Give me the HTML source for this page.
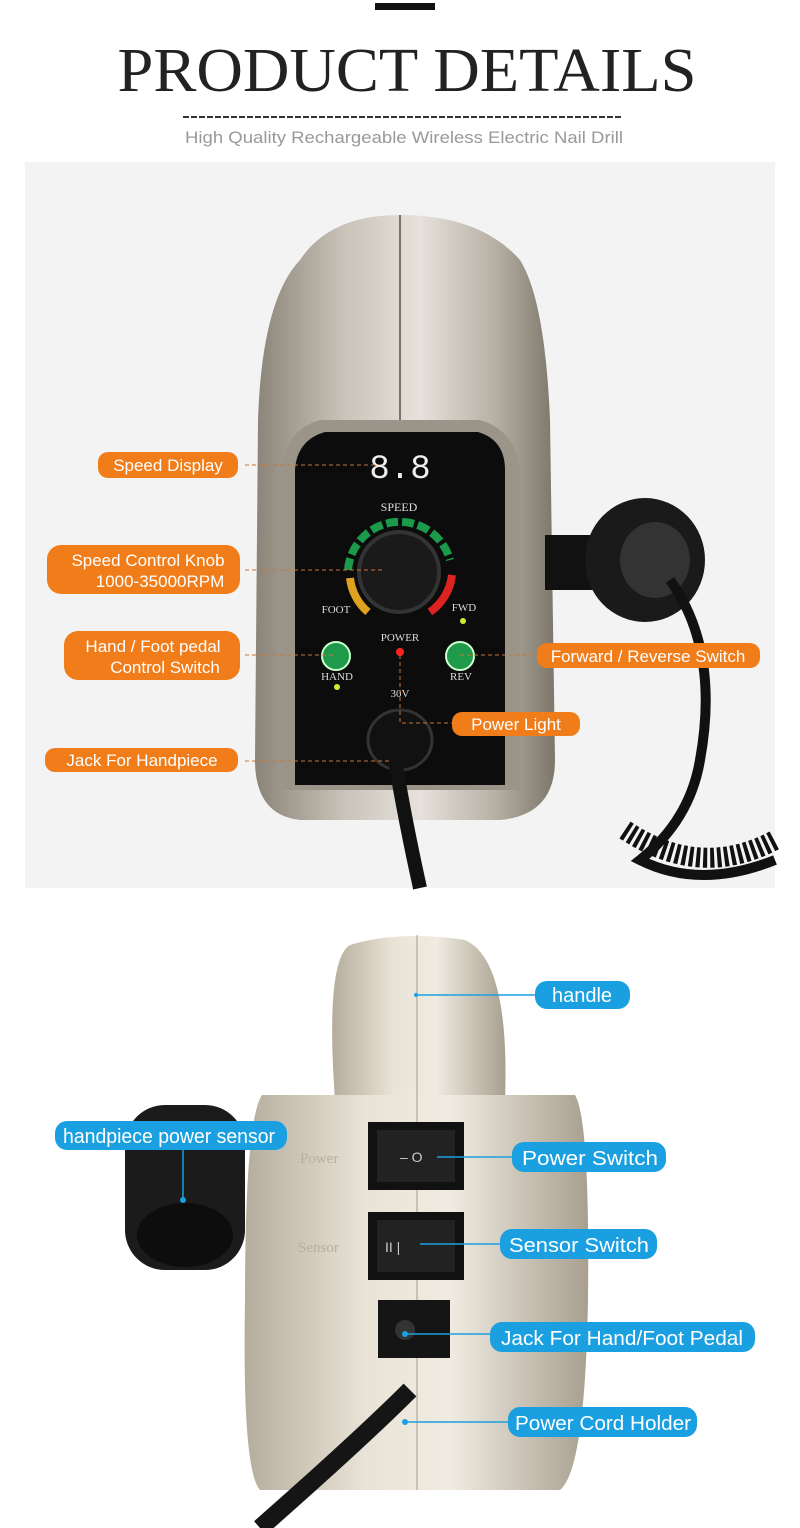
<!DOCTYPE html>
<html><head><meta charset="utf-8"><style>
body{margin:0;width:800px;height:1528px;background:#fff;overflow:hidden}
svg{display:block}
.o{font-family:"Liberation Sans",sans-serif;font-size:17px;fill:#fff}
.b{font-family:"Liberation Sans",sans-serif;font-size:20px;fill:#fff}
.p{font-family:"Liberation Serif",serif;font-size:11px;fill:#ddd}
</style></head><body>
<svg width="800" height="1528" viewBox="0 0 800 1528">
<defs>
<linearGradient id="body1" x1="0" x2="1"><stop offset="0" stop-color="#8a8378"/><stop offset=".3" stop-color="#c9c3b9"/><stop offset=".55" stop-color="#e6e2db"/><stop offset=".8" stop-color="#b7b0a5"/><stop offset="1" stop-color="#7d766b"/></linearGradient>
<linearGradient id="body2" x1="0" x2="1"><stop offset="0" stop-color="#b5ac9c"/><stop offset=".35" stop-color="#e9e3d7"/><stop offset=".6" stop-color="#f0ebe1"/><stop offset="1" stop-color="#a89f8f"/></linearGradient>
</defs>
<rect x="375" y="3" width="60" height="7" fill="#111"/>
<text x="407" y="91" text-anchor="middle" font-family="Liberation Serif,serif" font-size="62" fill="#222" textLength="579" lengthAdjust="spacingAndGlyphs">PRODUCT DETAILS</text>
<line x1="183" y1="117" x2="622" y2="117" stroke="#333" stroke-width="2" stroke-dasharray="6,2"/>
<text x="404" y="143" text-anchor="middle" font-family="Liberation Sans,sans-serif" font-size="17" fill="#999" textLength="438" lengthAdjust="spacingAndGlyphs">High Quality Rechargeable Wireless Electric Nail Drill</text>
<rect x="25" y="162" width="750" height="726" fill="#f3f3f3"/>
<!-- device 1 -->
<path d="M300 260 Q330 215 400 215 Q480 215 520 260 Q545 300 550 420 L555 760 Q555 815 500 820 L300 820 Q255 815 255 760 L258 420 Q262 300 300 260Z" fill="url(#body1)"/>
<line x1="400" y1="215" x2="400" y2="420" stroke="#7a7368" stroke-width="2"/>
<path d="M320 420 L480 420 Q515 430 520 470 L520 790 L282 790 L282 470 Q285 430 320 420Z" fill="#9b9488"/>
<path d="M325 432 L478 432 Q505 440 505 470 L505 785 L295 785 L295 470 Q297 440 325 432Z" fill="#0c0c0c"/>
<text x="400" y="478" text-anchor="middle" font-family="Liberation Mono,monospace" font-size="34" fill="#eee">8.8</text>
<text x="399" y="511" text-anchor="middle" font-family="Liberation Serif,serif" font-size="12" fill="#ddd">SPEED</text>
<path d="M348 570 A52 52 0 0 1 450 560" stroke="#1a9a4a" stroke-width="8" fill="none" stroke-dasharray="12,4"/>
<path d="M452 575 A52 52 0 0 1 430 612" stroke="#d22" stroke-width="8" fill="none"/>
<path d="M350 578 A52 52 0 0 0 368 612" stroke="#e0a020" stroke-width="8" fill="none"/>
<circle cx="399" cy="572" r="40" fill="#1a1a1a" stroke="#333" stroke-width="4"/>
<text x="336" y="613" text-anchor="middle" class="p">FOOT</text>
<text x="464" y="611" text-anchor="middle" class="p">FWD</text>
<text x="400" y="641" text-anchor="middle" class="p">POWER</text>
<circle cx="463" cy="621" r="3" fill="#ce3"/>
<circle cx="336" cy="656" r="14" fill="#1e9a4a" stroke="#cfc" stroke-width="2"/>
<circle cx="460" cy="656" r="14" fill="#1e9a4a" stroke="#cfc" stroke-width="2"/>
<circle cx="400" cy="652" r="4" fill="#f22"/>
<text x="337" y="680" text-anchor="middle" class="p">HAND</text>
<text x="461" y="680" text-anchor="middle" class="p">REV</text>
<circle cx="337" cy="687" r="3" fill="#ce3"/>
<text x="400" y="697" text-anchor="middle" class="p">30V</text>
<ellipse cx="400" cy="740" rx="32" ry="30" fill="#111" stroke="#333" stroke-width="3"/>
<path d="M395 760 Q405 820 420 888" stroke="#111" stroke-width="14" fill="none"/>
<rect x="545" y="535" width="50" height="55" fill="#111"/>
<ellipse cx="645" cy="560" rx="60" ry="62" fill="#1a1a1a"/>
<ellipse cx="655" cy="560" rx="35" ry="38" fill="#333"/>
<path d="M670 580 Q720 650 700 760 Q690 820 640 860 Q700 890 775 860" stroke="#111" stroke-width="10" fill="none"/>
<path d="M625 830 Q700 880 775 840" stroke="#111" stroke-width="20" fill="none" stroke-dasharray="4,3"/>
<!-- orange labels -->
<g fill="#f07d1a">
<rect x="98" y="452" width="140" height="26" rx="10"/>
<rect x="47" y="545" width="193" height="49" rx="14"/>
<rect x="64" y="631" width="176" height="49" rx="14"/>
<rect x="537" y="643" width="223" height="25" rx="10"/>
<rect x="452" y="712" width="128" height="24" rx="10"/>
<rect x="45" y="748" width="193" height="24" rx="10"/>
</g>
<g stroke="#c8753a" stroke-dasharray="4,3" fill="none">
<line x1="245" y1="465" x2="375" y2="465"/><line x1="245" y1="570" x2="385" y2="570"/>
<line x1="245" y1="655" x2="336" y2="655"/><line x1="460" y1="655" x2="537" y2="655"/>
<polyline points="400,655 400,723 452,723"/><line x1="245" y1="761" x2="390" y2="761"/>
</g>
<text x="168" y="471" text-anchor="middle" class="o">Speed Display</text>
<text x="148" y="566" text-anchor="middle" class="o">Speed Control Knob</text>
<text x="160" y="587" text-anchor="middle" class="o">1000-35000RPM</text>
<text x="153" y="652" text-anchor="middle" class="o">Hand / Foot pedal</text>
<text x="165" y="673" text-anchor="middle" class="o">Control Switch</text>
<text x="648" y="662" text-anchor="middle" class="o">Forward / Reverse Switch</text>
<text x="516" y="730" text-anchor="middle" class="o">Power Light</text>
<text x="142" y="766" text-anchor="middle" class="o">Jack For Handpiece</text>
<!-- device 2 -->
<path d="M350 945 Q400 930 465 940 Q510 960 505 1100 L335 1100 Q325 960 350 945Z" fill="url(#body2)"/>
<path d="M262 1095 L575 1095 Q590 1120 588 1300 Q585 1470 560 1490 L260 1490 Q242 1470 245 1300 Q245 1120 262 1095Z" fill="url(#body2)"/>
<line x1="417" y1="935" x2="417" y2="1490" stroke="#a59c8c"/>
<rect x="125" y="1105" width="120" height="165" rx="40" fill="#1b1b1b"/>
<ellipse cx="185" cy="1235" rx="48" ry="32" fill="#0d0d0d"/>
<text x="300" y="1163" font-family="Liberation Serif,serif" font-size="15" fill="#b8ae9d">Power</text>
<text x="298" y="1252" font-family="Liberation Serif,serif" font-size="15" fill="#b8ae9d">Sensor</text>
<rect x="368" y="1122" width="96" height="68" fill="#111"/><rect x="377" y="1130" width="78" height="52" fill="#222"/>
<text x="400" y="1162" fill="#ccc" font-family="Liberation Sans" font-size="14">–  O</text>
<rect x="368" y="1212" width="96" height="68" fill="#111"/><rect x="377" y="1220" width="78" height="52" fill="#222"/>
<text x="385" y="1252" fill="#ccc" font-family="Liberation Sans" font-size="14">II  |</text>
<rect x="378" y="1300" width="72" height="58" fill="#151515"/><circle cx="405" cy="1330" r="10" fill="#333"/>
<path d="M410 1390 Q360 1440 260 1528" stroke="#151515" stroke-width="18" fill="none"/>
<g fill="#1aa0e0">
<rect x="535" y="981" width="95" height="28" rx="12"/>
<rect x="55" y="1121" width="232" height="29" rx="12"/>
<rect x="512" y="1142" width="154" height="30" rx="12"/>
<rect x="500" y="1229" width="157" height="30" rx="12"/>
<rect x="490" y="1322" width="265" height="30" rx="12"/>
<rect x="508" y="1407" width="189" height="30" rx="12"/>
</g>
<g stroke="#1aa0e0" stroke-width="1.5" fill="none">
<line x1="416" y1="995" x2="535" y2="995"/><line x1="183" y1="1150" x2="183" y2="1200"/>
<line x1="437" y1="1157" x2="512" y2="1157"/><line x1="420" y1="1244" x2="500" y2="1244"/>
<line x1="405" y1="1334" x2="490" y2="1334"/><line x1="405" y1="1422" x2="508" y2="1422"/>
</g>
<g fill="#1aa0e0"><circle cx="416" cy="995" r="2"/><circle cx="183" cy="1200" r="3"/><circle cx="405" cy="1334" r="3"/><circle cx="405" cy="1422" r="3"/></g>
<text x="582" y="1002" text-anchor="middle" class="b">handle</text>
<text x="169" y="1143" text-anchor="middle" class="b" textLength="212" lengthAdjust="spacingAndGlyphs">handpiece power sensor</text>
<text x="590" y="1165" text-anchor="middle" class="b" textLength="136" lengthAdjust="spacingAndGlyphs">Power Switch</text>
<text x="579" y="1252" text-anchor="middle" class="b" textLength="140" lengthAdjust="spacingAndGlyphs">Sensor Switch</text>
<text x="622" y="1345" text-anchor="middle" class="b" textLength="242" lengthAdjust="spacingAndGlyphs">Jack For Hand/Foot Pedal</text>
<text x="603" y="1430" text-anchor="middle" class="b" textLength="176" lengthAdjust="spacingAndGlyphs">Power Cord Holder</text>
</svg>
</body></html>
